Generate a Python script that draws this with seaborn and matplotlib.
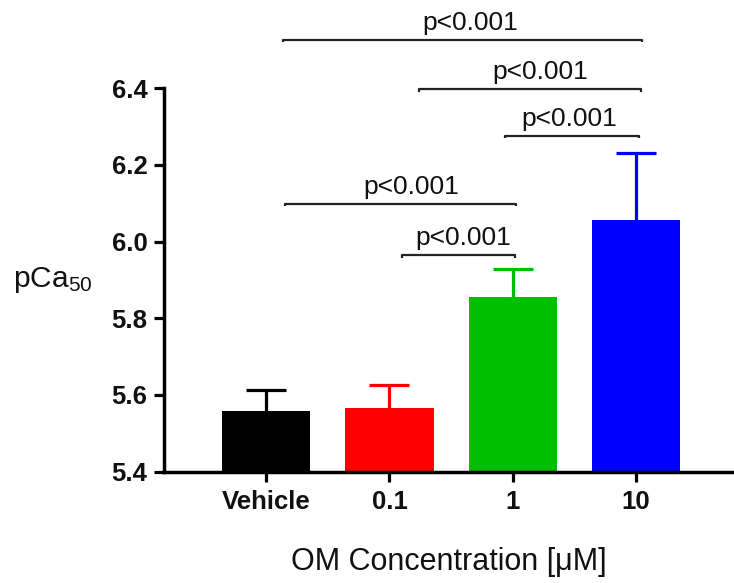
import matplotlib
matplotlib.use("Agg")
import matplotlib.pyplot as plt
import numpy as np
import pandas as pd
import seaborn as sns

# ---- data ----
categories = ["Vehicle", "0.1", "1", "10"]
means = [5.557, 5.567, 5.856, 6.055]
sem = [0.055, 0.058, 0.072, 0.177]
colors = ["#000000", "#FF0000", "#00BE00", "#0000FF"]
y_ticks = [5.4, 5.6, 5.8, 6.0, 6.2, 6.4]
comparisons = [("Vehicle", "10"), ("0.1", "10"), ("1", "10"), ("Vehicle", "1"), ("0.1", "1")]
p_labels = ["p<0.001", "p<0.001", "p<0.001", "p<0.001", "p<0.001"]

# ---- layout of significance brackets (positions only) ----
bracket_y = [6.526, 6.398, 6.276, 6.099, 5.965]
bracket_dx = [(0.14, 0.05), (0.24, 0.04), (-0.06, 0.02), (0.15, 0.03), (0.10, 0.02)]
text_x = [1.653, 2.22, 2.456, 1.179, 1.599]

sns.set_style("ticks")
plt.rcParams["font.family"] = ["Liberation Sans", "DejaVu Sans"]
plt.rcParams["mathtext.fontset"] = "custom"
plt.rcParams["mathtext.rm"] = "Liberation Sans"
plt.rcParams["mathtext.it"] = "Liberation Sans"

fig = plt.figure(figsize=(7.34, 5.83), dpi=100)
ax = fig.add_axes([0.2234, 0.1909, 0.7766, 0.658])

df = pd.DataFrame({"conc": categories, "pCa50": means})
sns.barplot(data=df, x="conc", y="pCa50", hue="conc", order=categories,
            hue_order=categories, palette=colors, width=0.714, saturation=1,
            errorbar=None, legend=False, ax=ax, linewidth=0)

for i, (m, s, c) in enumerate(zip(means, sem, colors)):
    _, caps, _ = ax.errorbar(i, m, yerr=[[0], [s]], fmt="none", ecolor=c,
                             elinewidth=2.3, capsize=14.75, capthick=2.3, zorder=3)
    for cap in caps:
        if np.isclose(np.asarray(cap.get_ydata(), dtype=float)[0], m):
            cap.set_visible(False)

ax.set_ylim(5.4, 6.4)
ax.set_xlim(-0.829, 3.794)
ax.set_yticks(y_ticks)
ax.set_yticklabels([f"{t:.1f}" for t in y_ticks])
for lab in ax.get_xticklabels() + ax.get_yticklabels():
    lab.set_fontweight("bold")
    lab.set_fontsize(18.5)
    lab.set_color("#111111")
ax.tick_params(axis="both", length=7, width=2.3, color="black", pad=5)
ax.tick_params(axis="x", pad=6)

sns.despine(ax=ax)
for sp in ["left", "bottom"]:
    ax.spines[sp].set_linewidth(2.5)
    ax.spines[sp].set_color("black")

ax.set_xlabel("OM Concentration [\u03bcM]", fontsize=22, color="#111111")
ax.xaxis.set_label_coords(0.5, -0.195)
ax.set_ylabel(r"pCa$_{\mathregular{50}}$", fontsize=21.5, rotation=0, color="#111111")
ax.yaxis.set_label_coords(-0.265, 0.50)
ax.yaxis.label.set_ha("left")
ax.yaxis.label.set_va("center")

idx = {c: i for i, c in enumerate(categories)}
d = 0.007
for (a, b), lab, y, (dl, dr), tx in zip(comparisons, p_labels, bracket_y, bracket_dx, text_x):
    x1 = idx[a] + dl
    x2 = idx[b] + dr
    ax.plot([x1, x1, x2, x2], [y - d, y, y, y - d], color="#222222", lw=1.6,
            clip_on=False, solid_capstyle="butt")
    ax.annotate(lab, xy=(tx, y), xytext=(0, 3.5), textcoords="offset points",
                ha="center", va="bottom", fontsize=19, color="#111111",
                annotation_clip=False)

fig.savefig("out.png", dpi=100)
